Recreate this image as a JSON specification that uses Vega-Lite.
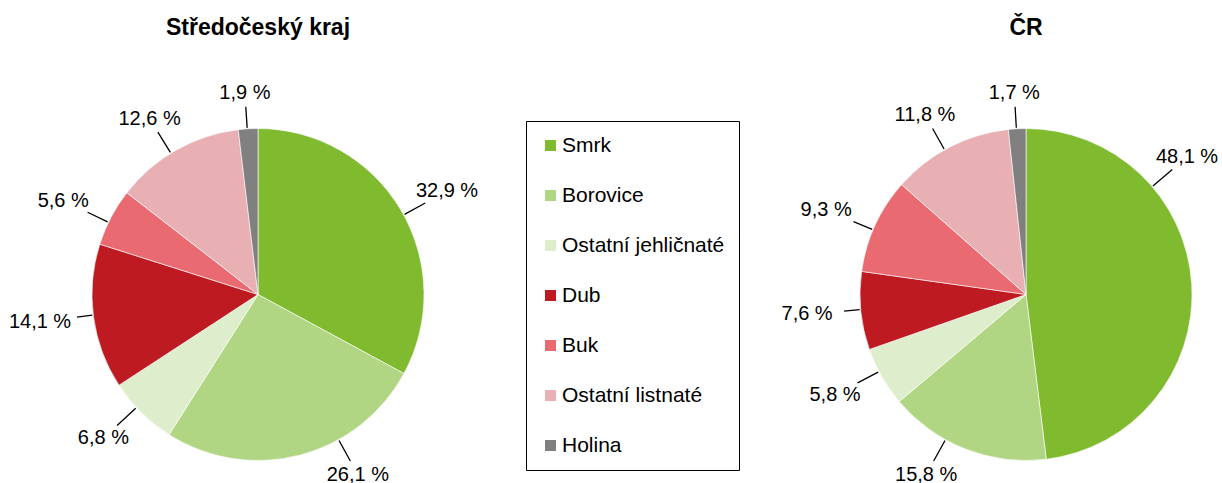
{
  "$schema": "https://vega.github.io/schema/vega-lite/v6.json",
  "width": 1222,
  "height": 377,
  "autosize": {"type": "none"},
  "padding": {"left": 0, "top": 106, "right": 0, "bottom": 0},
  "background": "white",
  "config": {"view": {"stroke": null}, "font": "Liberation Sans"},
  "data": {
    "values": [
      {"region": "Středočeský kraj", "druh": "Smrk", "poradi": 1, "podil": 32.9},
      {"region": "Středočeský kraj", "druh": "Borovice", "poradi": 2, "podil": 26.1},
      {"region": "Středočeský kraj", "druh": "Ostatní jehličnaté", "poradi": 3, "podil": 6.8},
      {"region": "Středočeský kraj", "druh": "Dub", "poradi": 4, "podil": 14.1},
      {"region": "Středočeský kraj", "druh": "Buk", "poradi": 5, "podil": 5.6},
      {"region": "Středočeský kraj", "druh": "Ostatní listnaté", "poradi": 6, "podil": 12.6},
      {"region": "Středočeský kraj", "druh": "Holina", "poradi": 7, "podil": 1.9},
      {"region": "ČR", "druh": "Smrk", "poradi": 1, "podil": 48.1},
      {"region": "ČR", "druh": "Borovice", "poradi": 2, "podil": 15.8},
      {"region": "ČR", "druh": "Ostatní jehličnaté", "poradi": 3, "podil": 5.8},
      {"region": "ČR", "druh": "Dub", "poradi": 4, "podil": 7.6},
      {"region": "ČR", "druh": "Buk", "poradi": 5, "podil": 9.3},
      {"region": "ČR", "druh": "Ostatní listnaté", "poradi": 6, "podil": 11.8},
      {"region": "ČR", "druh": "Holina", "poradi": 7, "podil": 1.7}
    ]
  },
  "transform": [
    {"joinaggregate": [{"op": "sum", "field": "podil", "as": "total"}], "groupby": ["region"]},
    {"window": [{"op": "sum", "field": "podil", "as": "cum"}], "groupby": ["region"], "sort": [{"field": "poradi"}], "frame": [null, 0]},
    {"calculate": "2 * PI * (datum.cum - datum.podil) / datum.total", "as": "a0"},
    {"calculate": "2 * PI * datum.cum / datum.total", "as": "a1"},
    {"calculate": "(datum.a0 + datum.a1) / 2", "as": "mid"},
    {"calculate": "220 * sin(datum.mid)", "as": "lx0"},
    {"calculate": "-202 * cos(datum.mid)", "as": "ly0"},
    {"calculate": "datum.region == 'ČR' ? 161 : 1000", "as": "xm"},
    {"calculate": "min(datum.lx0, datum.xm)", "as": "lx1"},
    {"calculate": "datum.lx0 > datum.xm ? (datum.ly0 < 0 ? -1 : 1) * 202 * sqrt(1 - pow(datum.xm / 220, 2)) : datum.ly0", "as": "ly1"},
    {"calculate": "datum.ly1 > 180 ? (datum.lx1 < 0 ? -1 : 1) * 220 * sqrt(1 - pow(180 / 202, 2)) : datum.lx1", "as": "lx2"},
    {"calculate": "min(datum.ly1, 180)", "as": "ly2"},
    {"calculate": "sqrt(datum.lx2 * datum.lx2 + datum.ly2 * datum.ly2)", "as": "labR"},
    {"calculate": "atan2(datum.lx2, -datum.ly2)", "as": "labTheta"},
    {"calculate": "max(172, datum.labR - 4 - min(33 / max(abs(sin(datum.labTheta)), 0.01), 10 / max(abs(cos(datum.labTheta)), 0.01)))", "as": "leadR"},
    {"calculate": "replace(format(datum.podil, '.1f'), '.', ',') + ' %'", "as": "stitek"}
  ],
  "encoding": {
    "x": {
      "field": "region",
      "type": "nominal",
      "axis": null,
      "scale": {"type": "point", "domain": ["Středočeský kraj", "ČR"], "padding": 0.29557, "align": 0.5683}
    }
  },
  "layer": [
    {
      "mark": {"type": "arc", "outerRadius": 166, "stroke": "white", "strokeWidth": 0.6},
      "encoding": {
        "theta": {"field": "a0", "type": "quantitative", "scale": null, "stack": null},
        "theta2": {"field": "a1"},
        "color": {
          "field": "druh",
          "type": "nominal",
          "scale": {
            "domain": ["Smrk", "Borovice", "Ostatní jehličnaté", "Dub", "Buk", "Ostatní listnaté", "Holina"],
            "range": ["#80bb2f", "#b1d683", "#deedcb", "#bd1a22", "#ea6a72", "#e8b0b3", "#808080"]
          },
          "legend": {
            "orient": "none",
            "legendX": 526,
            "legendY": 15,
            "title": null,
            "symbolType": "square",
            "symbolSize": 121,
            "symbolStrokeWidth": 0,
            "symbolOpacity": 1,
            "labelFontSize": 21,
            "labelFont": "Liberation Sans",
            "labelColor": "black",
            "labelLimit": 400,
            "labelOffset": 1,
            "rowPadding": 28,
            "padding": 14,
            "strokeColor": "black",
            "fillColor": "white"
          }
        }
      }
    },
    {
      "mark": {"type": "arc", "filled": false, "stroke": "black", "strokeWidth": 1.3},
      "encoding": {
        "theta": {"field": "labTheta", "type": "quantitative", "scale": null, "stack": null},
        "theta2": {"field": "labTheta"},
        "radius": {"field": "leadR", "type": "quantitative", "scale": null},
        "radius2": {"value": 167}
      }
    },
    {
      "mark": {"type": "text", "fontSize": 20, "color": "black", "align": "center", "baseline": "middle"},
      "encoding": {
        "theta": {"field": "labTheta", "type": "quantitative", "scale": null, "stack": null},
        "radius": {"field": "labR", "type": "quantitative", "scale": null},
        "text": {"field": "stitek", "type": "nominal"}
      }
    },
    {
      "data": {"values": [{"region": "Středočeský kraj"}, {"region": "ČR"}]},
      "transform": [],
      "mark": {"type": "text", "fontSize": 23, "fontWeight": "bold", "dy": -267, "color": "black", "align": "center", "baseline": "middle"},
      "encoding": {"text": {"field": "region", "type": "nominal"}}
    }
  ]
}
